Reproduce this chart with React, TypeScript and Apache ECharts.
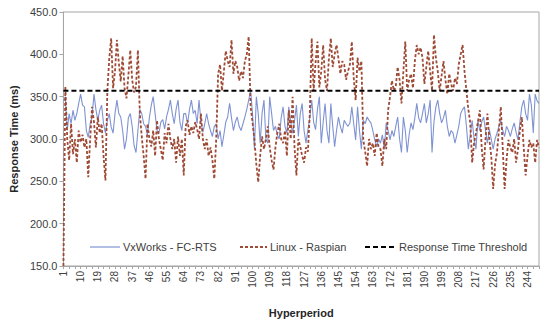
import React, { useEffect, useRef } from "react";
import * as echarts from "echarts";

const categories: string[] = Array.from({ length: 250 }, (_, i) => String(i + 1));

const vxWorks: number[] = [
  345, 350, 310, 330, 318, 334, 322, 330, 342, 353,
  340, 338, 310, 302, 318, 326, 353, 335, 322, 334,
  340, 318, 307, 322, 330, 314, 307, 330, 346, 330,
  326, 310, 288, 300, 325, 330, 315, 292, 284, 310,
  335, 330, 318, 315, 305, 325, 340, 350, 330, 310,
  307, 320, 323, 312, 326, 335, 346, 330, 318, 335,
  346, 320, 310, 330, 330, 318, 335, 346, 330, 334,
  318, 346, 320, 308, 318, 330, 318, 310, 303, 315,
  318, 300, 310, 291, 305, 320, 326, 342, 325, 310,
  320, 326, 315, 310, 318, 326, 335, 346, 357, 330,
  288, 350, 330, 295, 330, 346, 300, 295, 350, 330,
  310, 315, 305, 300, 325, 338, 315, 307, 338, 320,
  307, 322, 340, 303, 330, 342, 310, 295, 311, 325,
  346, 320, 311, 335, 350, 295, 320, 342, 310, 295,
  342, 315, 291, 310, 326, 315, 307, 322, 318, 315,
  319, 338, 318, 299, 338, 310, 288, 322, 318, 326,
  322, 319, 310, 299, 291, 300, 295, 305, 288, 319,
  310, 299, 310, 303, 315, 326, 300, 284, 326, 310,
  284, 305, 319, 311, 325, 342, 325, 319, 330, 342,
  319, 330, 346, 284, 320, 338, 346, 330, 319, 325,
  334, 315, 303, 310, 307, 295, 305, 315, 330, 335,
  338, 315, 288, 305, 322, 300, 288, 322, 310, 320,
  326, 310, 295, 311, 300, 288, 300, 307, 315, 322,
  310, 303, 315, 310, 303, 312, 319, 308, 299, 320,
  338, 346, 330, 322, 353, 340, 307, 353, 345, 342,
];

const linux: number[] = [
  150, 362, 300, 275, 318, 282, 300, 272, 310, 296,
  305, 290, 300, 255, 300, 338, 320, 290, 326, 307,
  318, 280, 251, 357, 395, 419, 360, 380, 417, 390,
  368, 398, 360, 348, 375, 405, 370, 355, 362, 405,
  330, 303, 280, 253, 318, 300, 291, 310, 280, 322,
  300, 288, 275, 307, 295, 318, 300, 288, 300, 272,
  303, 280, 300, 257, 315, 322, 305, 315, 307, 320,
  312, 300, 330, 300, 288, 300, 280, 290, 275, 253,
  300, 377, 388, 357, 380, 404, 392, 385, 417, 377,
  392, 385, 369, 380, 372, 392, 400, 421, 338, 320,
  299, 270, 249, 280, 303, 288, 300, 315, 290, 275,
  264, 290, 307, 318, 300, 295, 310, 280, 334, 300,
  350, 290, 257, 300, 291, 280, 272, 290, 285, 330,
  419, 357, 390, 415, 361, 380, 411, 370, 357, 395,
  419, 385, 400, 411, 395, 377, 392, 388, 370, 380,
  388, 415, 372, 346, 396, 380, 392, 299, 285, 268,
  300, 288, 295, 280, 307, 290, 288, 268, 300, 288,
  334, 350, 369, 357, 362, 385, 370, 342, 380, 415,
  357, 370, 377, 360, 392, 411, 400, 408, 396, 365,
  385, 404, 380, 357, 423, 396, 380, 357, 375, 392,
  370, 353, 377, 365, 357, 372, 365, 388, 400, 411,
  380, 357, 335, 319, 272, 295, 307, 320, 334, 290,
  264, 300, 330, 300, 280, 241, 270, 284, 310, 338,
  290, 241, 275, 299, 290, 284, 300, 272, 288, 310,
  326, 290, 257, 280, 299, 290, 295, 272, 299, 290,
];

const thresholdValue = 357;
const threshold: number[] = categories.map(() => thresholdValue);

const seriesNames = ["VxWorks - FC-RTS", "Linux - Raspian", "Response Time Threshold"];
const seriesColors = ["#7f93d3", "#9e4a35", "#000000"];

const yTicks = { min: 150, max: 450, interval: 50 };

export default function App() {
  const ref = useRef<HTMLDivElement>(null);
  useEffect(() => {
    if (!ref.current) return;
    const chart = echarts.init(ref.current, undefined, { renderer: "svg" });
    const font = "'Liberation Sans', Arial, sans-serif";
    const legendY = 247;
    const legendItems = [
      { x: 90, w: 30, dash: null as null | number[], width: 1.2 },
      { x: 240, w: 27, dash: [3, 2], width: 1.8 },
      { x: 365, w: 31, dash: [5, 3], width: 2 },
    ];
    const legendGraphics: any[] = [];
    legendItems.forEach((it, k) => {
      legendGraphics.push({
        type: "line",
        shape: { x1: it.x, y1: legendY, x2: it.x + it.w, y2: legendY },
        style: {
          stroke: seriesColors[k],
          lineWidth: it.width,
          lineDash: it.dash || undefined,
        },
        silent: true,
      });
      legendGraphics.push({
        type: "text",
        x: it.x + it.w + 3,
        y: legendY,
        style: {
          text: seriesNames[k],
          fill: "#404040",
          font: `11px ${font}`,
          verticalAlign: "middle",
          align: "left",
        },
        silent: true,
      });
    });
    chart.setOption({
      animation: false,
      backgroundColor: "#ffffff",
      textStyle: { fontFamily: font },
      grid: {
        left: 60,
        right: 11,
        top: 12,
        bottom: 53,
        show: true,
        borderColor: "#a6a6a6",
        borderWidth: 1,
        backgroundColor: "transparent",
      },
      graphic: legendGraphics,
      xAxis: {
        type: "category",
        data: categories,
        boundaryGap: false,
        name: "Hyperperiod",
        nameLocation: "middle",
        nameGap: 41,
        nameTextStyle: { fontWeight: "bold", fontSize: 11, color: "#262626", fontFamily: font },
        axisLine: { lineStyle: { color: "#a6a6a6" } },
        axisTick: { interval: 2, length: 3, lineStyle: { color: "#a6a6a6" } },
        axisLabel: {
          interval: 8,
          rotate: 90,
          fontSize: 10,
          color: "#404040",
          margin: 5,
          fontFamily: font,
        },
        splitLine: { show: false },
      },
      yAxis: {
        type: "value",
        min: yTicks.min,
        max: yTicks.max,
        interval: yTicks.interval,
        name: "Response Time (ms)",
        nameLocation: "middle",
        nameGap: 44,
        nameTextStyle: { fontWeight: "bold", fontSize: 11, color: "#262626", fontFamily: font },
        axisLine: { show: true, lineStyle: { color: "#a6a6a6" } },
        axisTick: { show: true, length: 4, lineStyle: { color: "#a6a6a6" } },
        axisLabel: {
          formatter: (v: number) => v.toFixed(1),
          fontSize: 11,
          color: "#404040",
          margin: 6,
          fontFamily: font,
        },
        splitLine: { show: false },
      },
      series: [
        {
          name: seriesNames[0],
          type: "line",
          data: vxWorks,
          symbol: "none",
          lineStyle: { color: seriesColors[0], width: 1.1 },
          itemStyle: { color: seriesColors[0] },
          z: 2,
        },
        {
          name: seriesNames[1],
          type: "line",
          data: linux,
          symbol: "none",
          lineStyle: { color: seriesColors[1], width: 1.8, type: [3, 2] },
          itemStyle: { color: seriesColors[1] },
          z: 3,
        },
        {
          name: seriesNames[2],
          type: "line",
          data: threshold,
          symbol: "none",
          lineStyle: { color: seriesColors[2], width: 2, type: [5, 3] },
          itemStyle: { color: seriesColors[2] },
          z: 4,
        },
      ],
    });
    return () => chart.dispose();
  }, []);
  return (
    <div
      ref={ref}
      style={{ position: "fixed", left: 0, top: 0, width: 550, height: 323 }}
    />
  );
}
